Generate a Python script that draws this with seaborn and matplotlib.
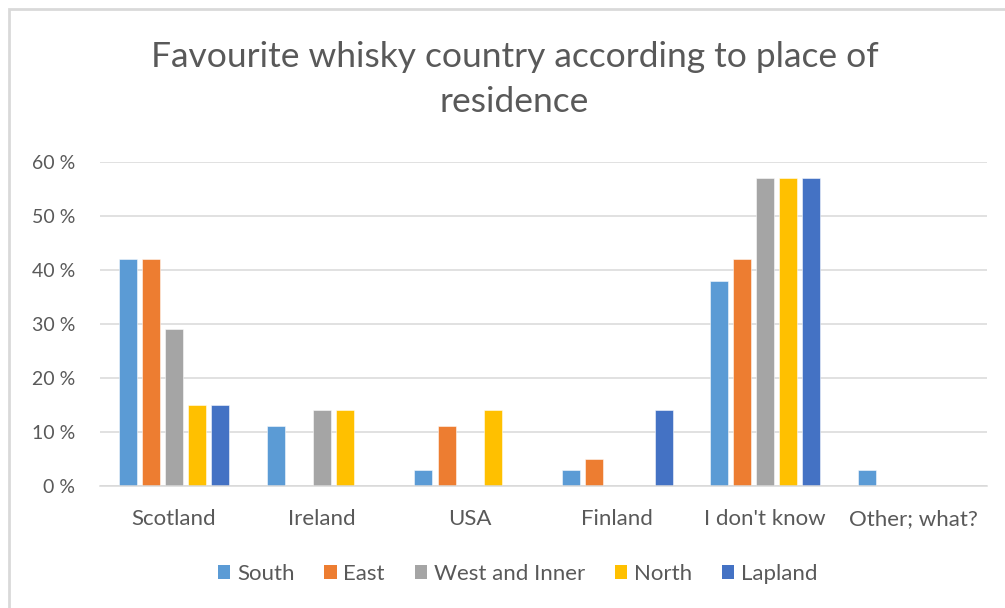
import matplotlib
matplotlib.use("Agg")
import matplotlib.pyplot as plt
from matplotlib.patches import Rectangle
from matplotlib.ticker import FuncFormatter, MultipleLocator
import seaborn as sns
import pandas as pd

categories = ["Scotland", "Ireland", "USA", "Finland", "I don't know", "Other; what?"]
regions = ["South", "East", "West and Inner", "North", "Lapland"]
south = [42, 11, 3, 3, 38, 3]
east = [42, 0, 11, 5, 42, 0]
west_inner = [29, 14, 0, 0, 57, 0]
north = [15, 14, 14, 0, 57, 0]
lapland = [15, 0, 0, 14, 57, 0]
colors = ["#5B9BD5", "#ED7D31", "#A5A5A5", "#FFC000", "#4472C4"]

series = [south, east, west_inner, north, lapland]
rows = []
for reg, vals in zip(regions, series):
    for cat, v in zip(categories, vals):
        rows.append({"Country": cat, "Region": reg, "Share": v})
df = pd.DataFrame(rows)

sns.set_theme(style="white")
plt.rcParams["font.family"] = ["Lato", "DejaVu Sans"]
text_color = "#595959"

fig = plt.figure(figsize=(10.05, 6.08), dpi=100)
ax = fig.add_axes([100 / 1005, 1 - 485.7 / 608, 887 / 1005, (485.7 - 161.7) / 608])

sns.barplot(data=df, x="Country", y="Share", hue="Region", order=categories,
            hue_order=regions, palette=colors, width=0.78, dodge=True,
            ax=ax, legend=False, saturation=1)

# narrow each bar inside its slot and give it a thin light outline
for p in ax.patches:
    w = p.get_width()
    new_w = w * 0.78
    p.set_x(p.get_x() + (w - new_w) / 2)
    p.set_width(new_w)
    p.set_edgecolor((1, 1, 1, 0.6))
    p.set_linewidth(0.6)

ax.set_ylim(0, 60)
ax.set_xlim(-0.5, len(categories) - 0.5)
ax.yaxis.set_major_locator(MultipleLocator(10))
ax.yaxis.set_major_formatter(FuncFormatter(lambda v, _: f"{v:.0f} %"))
ax.grid(axis="y", color="#D9D9D9", linewidth=1.1)
ax.set_axisbelow(True)
for s in ["top", "right", "left"]:
    ax.spines[s].set_visible(False)
ax.spines["bottom"].set_color("#D9D9D9")
ax.spines["bottom"].set_linewidth(1.1)
ax.set_xlabel("")
ax.set_ylabel("")
ax.tick_params(axis="y", length=0, pad=18, labelsize=14, labelcolor=text_color)
ax.tick_params(axis="x", length=0, pad=17, labelsize=16, labelcolor=text_color)

title_lines = ["Favourite whisky country according to place of", "residence"]
fig.text(0.512, 1 - 57 / 608, title_lines[0], ha="center", va="center",
         fontsize=25.5, color=text_color)
fig.text(0.512, 1 - 102 / 608, title_lines[1], ha="center", va="center",
         fontsize=25.5, color=text_color)

handles = [Rectangle((0, 0), 1, 1, facecolor=c, edgecolor="none") for c in colors]
fig.legend(handles, regions, loc="center", bbox_to_anchor=(0.515, 1 - 574 / 608),
           ncol=5, frameon=False, fontsize=16, handlelength=0.55, handleheight=0.55,
           handletextpad=0.3, columnspacing=1.35, labelcolor=text_color)

# chart area border
fig.patches.append(Rectangle((9 / 1005, -0.05), 1.1, 1 - 9 / 608 + 0.05,
                             transform=fig.transFigure, fill=False,
                             edgecolor="#D9D9D9", linewidth=2))

fig.savefig("out.png", dpi=100, facecolor="white")
